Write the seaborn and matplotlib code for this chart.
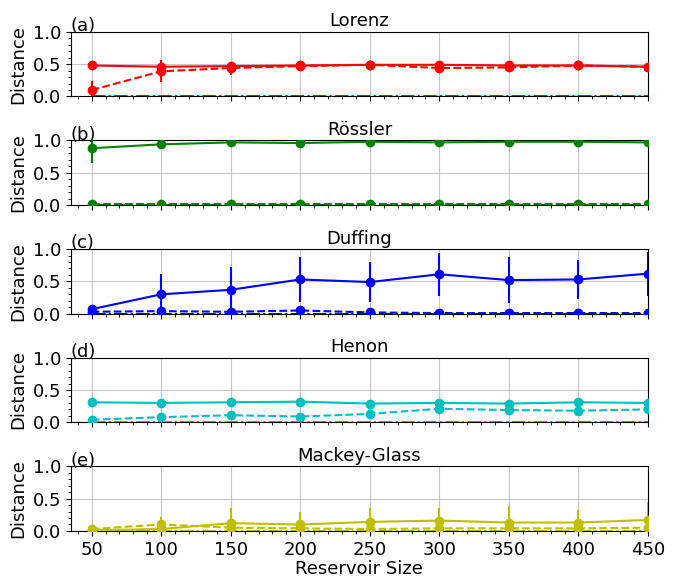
import numpy as np
import pandas as pd
import matplotlib
matplotlib.use("Agg")
import matplotlib.pyplot as plt
import seaborn as sns
from matplotlib.ticker import MultipleLocator

sizes = [50, 100, 150, 200, 250, 300, 350, 400, 450]

systems = ["Lorenz", "Rössler", "Duffing", "Henon", "Mackey-Glass"]
labels = ["(a)", "(b)", "(c)", "(d)", "(e)"]
colors = ["r", "g", "b", "c", "y"]

# solid series (mean, error)
solid = {
    "Lorenz": [0.48, 0.46, 0.47, 0.48, 0.49, 0.49, 0.48, 0.48, 0.46],
    "Rössler": [0.88, 0.94, 0.97, 0.96, 0.98, 0.97, 0.98, 0.98, 0.97],
    "Duffing": [0.07, 0.30, 0.37, 0.53, 0.49, 0.61, 0.52, 0.53, 0.62],
    "Henon": [0.31, 0.30, 0.31, 0.32, 0.29, 0.30, 0.29, 0.31, 0.30],
    "Mackey-Glass": [0.01, 0.03, 0.12, 0.10, 0.14, 0.16, 0.13, 0.13, 0.17],
}
solid_err = {
    "Lorenz": [0.03, 0.05, 0.04, 0.03, 0.03, 0.03, 0.03, 0.03, 0.03],
    "Rössler": [0.23, 0.06, 0.02, 0.02, 0.01, 0.01, 0.01, 0.01, 0.01],
    "Duffing": [0.07, 0.32, 0.35, 0.35, 0.31, 0.33, 0.36, 0.30, 0.34],
    "Henon": [0.02, 0.02, 0.02, 0.02, 0.02, 0.02, 0.02, 0.02, 0.02],
    "Mackey-Glass": [0.02, 0.03, 0.24, 0.19, 0.21, 0.20, 0.25, 0.20, 0.27],
}
# dashed series
dashed = {
    "Lorenz": [0.10, 0.39, 0.44, 0.47, 0.49, 0.44, 0.45, 0.48, 0.46],
    "Rössler": [0.01, 0.01, 0.01, 0.01, 0.01, 0.01, 0.01, 0.01, 0.01],
    "Duffing": [0.03, 0.04, 0.03, 0.05, 0.02, 0.01, 0.01, 0.01, 0.01],
    "Henon": [0.04, 0.08, 0.11, 0.09, 0.13, 0.21, 0.19, 0.18, 0.20],
    "Mackey-Glass": [0.03, 0.10, 0.05, 0.04, 0.03, 0.04, 0.04, 0.04, 0.05],
}
dashed_err = {
    "Lorenz": [0.14, 0.17, 0.10, 0.05, 0.04, 0.05, 0.04, 0.04, 0.03],
    "Rössler": [0.01, 0.01, 0.01, 0.01, 0.01, 0.01, 0.01, 0.01, 0.01],
    "Duffing": [0.02, 0.02, 0.02, 0.02, 0.02, 0.01, 0.01, 0.01, 0.01],
    "Henon": [0.03, 0.05, 0.04, 0.04, 0.05, 0.03, 0.03, 0.03, 0.03],
    "Mackey-Glass": [0.02, 0.12, 0.03, 0.02, 0.02, 0.02, 0.02, 0.02, 0.02],
}
# dash-dot series (baseline)
dashdot = [0.0, 0.0, 0.0, 0.0, 0.0, 0.0, 0.0, 0.0, 0.0]

plt.rcParams['font.family'] = ['DejaVu Sans']
fig, axes = plt.subplots(5, 1, figsize=(6.81, 5.79), dpi=100, sharex=True)
fig.subplots_adjust(left=0.104, right=0.9515, top=0.945, bottom=0.083, hspace=0.68)

for ax, name, lab, c in zip(axes, systems, labels, colors):
    ax.grid(True, which='major', color='#b0b0b0', linewidth=0.8, alpha=0.7)
    ax.set_axisbelow(True)
    sns.lineplot(x=sizes, y=dashdot, color=c, linestyle='-.', ax=ax, zorder=2)
    sns.lineplot(x=sizes, y=dashed[name], color=c, linestyle='--', marker='o',
                 markersize=7, markeredgewidth=0, ax=ax, zorder=3)
    ax.errorbar(sizes, dashed[name], yerr=dashed_err[name], fmt='none', ecolor=c, elinewidth=1.5, zorder=3)
    sns.lineplot(x=sizes, y=solid[name], color=c, linestyle='-', marker='o',
                 markersize=7, markeredgewidth=0, ax=ax, zorder=4)
    ax.errorbar(sizes, solid[name], yerr=solid_err[name], fmt='none', ecolor=c, elinewidth=1.5, zorder=4)
    ax.set_xlim(35, 450)
    ax.set_ylim(0, 1.0)
    ax.set_yticks([0.0, 0.5, 1.0])
    ax.yaxis.set_minor_locator(MultipleLocator(0.1))
    ax.xaxis.set_minor_locator(MultipleLocator(10))
    ax.tick_params(axis='both', which='major', labelsize=13)
    ax.set_ylabel("Distance", fontsize=13)
    ax.set_title(name, fontsize=13, pad=4)
    ax.text(0.0, 0.95, lab, transform=ax.transAxes, fontsize=13, ha='left', va='bottom')

axes[-1].set_xticks(sizes)
axes[-1].set_xlabel("Reservoir Size", fontsize=13, labelpad=1)

fig.savefig("out.png", dpi=100)
